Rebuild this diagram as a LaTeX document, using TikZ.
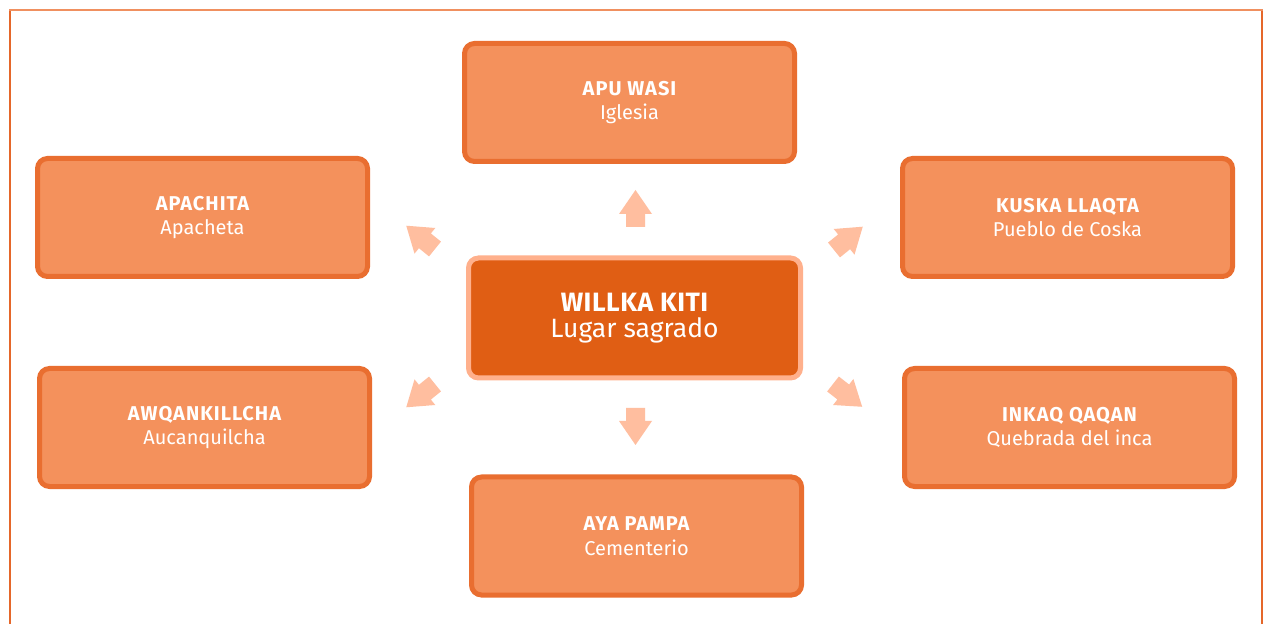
\documentclass[tikz,border=0pt]{standalone}
\usepackage{fontspec}
\setmainfont{Fira Sans}
\definecolor{boxfill}{HTML}{F4915C}
\definecolor{boxline}{HTML}{E96E30}
\definecolor{hubfill}{HTML}{E05E14}
\definecolor{hubline}{HTML}{FFB08C}
\definecolor{arrowfill}{HTML}{FFBE9F}
\definecolor{frameside}{HTML}{E5672A}
\definecolor{frametop}{HTML}{F09060}
\newcommand\headline[1]{{\bfseries\addfontfeatures{LetterSpace=5}#1}}
\newcommand\hubline[1]{{\bfseries\addfontfeatures{LetterSpace=2}#1}}
\tikzset{
  place/.style={draw=boxline, fill=boxfill, line width=5pt, rounded corners=10pt,
    minimum width=330pt, minimum height=118pt, inner sep=0pt, text=white,
    align=center, font=\fontsize{20}{24.5}\selectfont},
  hub/.style={draw=hubline, fill=hubfill, line width=5pt, rounded corners=10pt,
    minimum width=332pt, minimum height=120pt, inner sep=0pt, text=white,
    align=center, font=\fontsize{26.5}{27.5}\selectfont},
  blockarrow/.style={fill=arrowfill},
}
% block arrow: tail at #1, pointing at angle #2
\newcommand\pointer[2]{%
  \fill[blockarrow, shift={#1}, rotate=#2]
    (0,-9.5) -- (13,-9.5) -- (13,-16.5) -- (37,0) -- (13,16.5) -- (13,9.5) -- (0,9.5) -- cycle;}
\begin{document}
\begin{tikzpicture}[x=1pt,y=1pt]
  \useasboundingbox (0,0) rectangle (1263,624);
  \fill[white] (0,0) rectangle (1263,624);
  % outer frame, open at the bottom
  \draw[frameside, line width=2pt] (10,0) -- (10,614);
  \draw[frameside, line width=2pt] (1261.5,0) -- (1261.5,614);
  \draw[frametop, line width=2pt] (9,614) -- (1262.5,614);

  % central place
  \node[hub] (hub) at (634.5,306) {\hubline{WILLKA KITI}\\[-1pt]Lugar sagrado};

  % surrounding places
  \node[place] (apu)   at (629.5,521.5) {\headline{APU WASI}\\Iglesia};
  \node[place] (apa)   at (202.5,406.5) {\headline{APACHITA}\\Apacheta};
  \node[place] (kus)   at (1067.5,406.5) {\headline{KUSKA LLAQTA}\\Pueblo de Coska};
  \node[place] (awq)   at (204.5,196.5) {\headline{AWQANKILLCHA}\\Aucanquilcha};
  \node[place] (ink)   at (1069.5,196.5) {\headline{INKAQ QAQAN}\\Quebrada del inca};
  \node[place] (aya)   at (636.5,88) {\headline{AYA PAMPA}\\Cementerio};

  % arrows radiating from the centre
  \pointer{(635.5,397)}{90}
  \pointer{(635.5,216)}{-90}
  \pointer{(435,375)}{141}
  \pointer{(834,374)}{39}
  \pointer{(435,240)}{-141}
  \pointer{(833,240)}{-38}
\end{tikzpicture}
\end{document}
